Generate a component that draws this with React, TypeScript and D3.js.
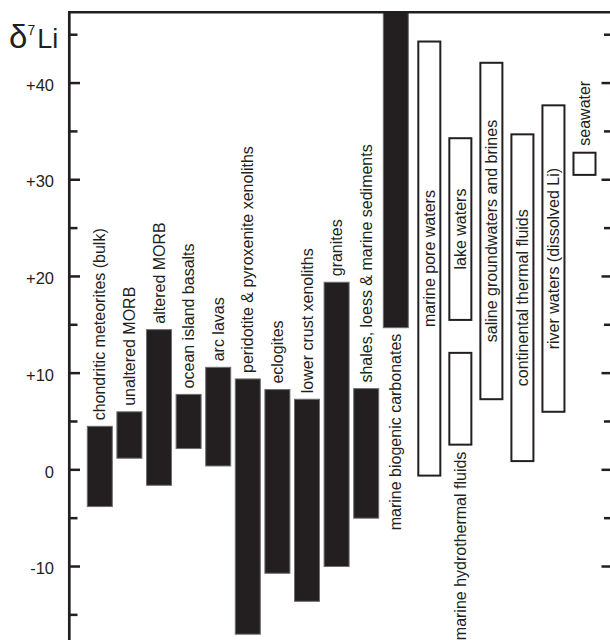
import React from 'react';
import * as d3 from 'd3';

// rock / solid reservoirs (filled bars)
const solidNames = [
  'chondritic meteorites (bulk)',
  'unaltered MORB',
  'altered MORB',
  'ocean island basalts',
  'arc lavas',
  'peridotite & pyroxenite xenoliths',
  'eclogites',
  'lower crust xenoliths',
  'granites',
  'shales, loess & marine sediments',
  'marine biogenic carbonates',
];
const solidLow = [-3.8, 1.2, -1.6, 2.2, 0.4, -17.0, -10.7, -13.6, -10.0, -5.0, 14.7];
const solidHigh = [4.5, 6.0, 14.5, 7.8, 10.6, 9.4, 8.3, 7.3, 19.4, 8.4, 50];
const solidLabelPlace = ['above', 'above', 'above', 'above', 'above', 'above', 'above', 'above', 'above', 'above', 'below'];

// fluid reservoirs (open bars)
const openNames = [
  'marine pore waters',
  'marine hydrothermal fluids',
  'lake waters',
  'saline groundwaters and brines',
  'continental thermal fluids',
  'river waters (dissolved Li)',
  'seawater',
];
const openColumn = ['0', '1', '1', '2', '3', '4', '5'];
const openLow = [-0.7, 2.5, 15.4, 7.2, 0.8, 5.9, 30.4];
const openHigh = [44.4, 12.2, 34.4, 42.2, 34.8, 37.8, 32.9];
const openLabelPlace = ['inside', 'below', 'inside', 'inside', 'inside', 'inside', 'above'];

const majorTicks = [40, 30, 20, 10, 0, -10];
const tickLabels = ['+40', '+30', '+20', '+10', '0', '-10'];
const minorTicks = [45, 35, 25, 15, 5, -5, -15];
const rightMinorTicks = [45, 35, 25, 15, 5, -5];

const W = 610;
const H = 640;
const ink = '#231f20';
const font = '"Liberation Sans", Arial, Helvetica, sans-serif';

export default function App() {
  const y = d3.scaleLinear().domain([-17.6, 47.35]).range([H, 12]).clamp(true);

  const xSolid = d3.scaleBand<string>()
    .domain(solidNames)
    .range([87.3, 408.3])
    .paddingInner(0.155)
    .paddingOuter(0);

  const xOpen = d3.scaleBand<string>()
    .domain(['0', '1', '2', '3', '4', '5'])
    .range([417.3, 596.5])
    .paddingInner(0.226)
    .paddingOuter(0);

  const axisX = 69.3;
  const gap = 6;

  const label = (text: string, cx: number, top: number, bottom: number, place: string, key: string) => {
    let ly = top - gap;
    let anchor = 'start';
    if (place === 'below') {
      ly = bottom + gap;
      anchor = 'end';
    } else if (place === 'inside') {
      ly = (top + bottom) / 2;
      anchor = 'middle';
    }
    return (
      <text
        key={key}
        x={cx}
        y={ly}
        dy="0.35em"
        transform={`rotate(-90, ${cx}, ${ly})`}
        textAnchor={anchor}
        fontSize={16}
        fontFamily={font}
        fill={ink}
      >
        {text}
      </text>
    );
  };

  return (
    <svg width={W} height={H} style={{ position: 'absolute', left: 0, top: 0, background: '#fff' }}>
      {/* filled bars */}
      {solidNames.map((name, i) => {
        const x0 = xSolid(name)!;
        const top = y(solidHigh[i]);
        const bottom = y(solidLow[i]);
        return (
          <g key={name}>
            <rect x={x0} y={top} width={xSolid.bandwidth()} height={bottom - top}
              fill={ink} stroke="#6d6e71" strokeWidth={1} />
            {label(name, x0 + xSolid.bandwidth() / 2, top, bottom, solidLabelPlace[i], 'l' + i)}
          </g>
        );
      })}

      {/* open bars */}
      {openNames.map((name, i) => {
        const x0 = xOpen(openColumn[i])!;
        const bw = xOpen.bandwidth();
        const top = y(openHigh[i]);
        const bottom = y(openLow[i]);
        return (
          <g key={name}>
            <rect x={x0 + 1} y={top + 1} width={bw - 2} height={bottom - top - 2}
              fill="#fff" stroke={ink} strokeWidth={2} />
            {label(name, x0 + bw / 2, top, bottom, openLabelPlace[i], 'o' + i)}
          </g>
        );
      })}

      {/* frame */}
      <line x1={axisX - 1.3} x2={W} y1={12.2} y2={12.2} stroke={ink} strokeWidth={2.4} />
      <line x1={axisX} x2={axisX} y1={11} y2={H} stroke={ink} strokeWidth={2.7} />

      {/* left ticks */}
      {majorTicks.map(v => (
        <line key={'M' + v} x1={axisX} x2={80} y1={y(v)} y2={y(v)} stroke={ink} strokeWidth={2.5} />
      ))}
      {minorTicks.map(v => (
        <line key={'m' + v} x1={axisX} x2={77.5} y1={y(v)} y2={y(v)} stroke={ink} strokeWidth={2.5} />
      ))}
      {majorTicks.map((v, i) => (
        <text key={'t' + v} x={54} y={y(v) + 7.7} textAnchor="end" fontSize={16.5} fontFamily={font} fill={ink}>
          {tickLabels[i]}
        </text>
      ))}

      {/* right ticks */}
      {majorTicks.map(v => (
        <line key={'RM' + v} x1={601.5} x2={W} y1={y(v)} y2={y(v)} stroke={ink} strokeWidth={2.5} />
      ))}
      {rightMinorTicks.map(v => (
        <line key={'Rm' + v} x1={604} x2={W} y1={y(v)} y2={y(v)} stroke={ink} strokeWidth={2.5} />
      ))}

      {/* axis title */}
      <text x={9} y={48.3} fontFamily={font} fill={ink}>
        <tspan fontSize={33}>δ</tspan>
        <tspan fontSize={14} dy={-13}>7</tspan>
        <tspan fontSize={27} dy={13} dx={2}>Li</tspan>
      </text>
    </svg>
  );
}
